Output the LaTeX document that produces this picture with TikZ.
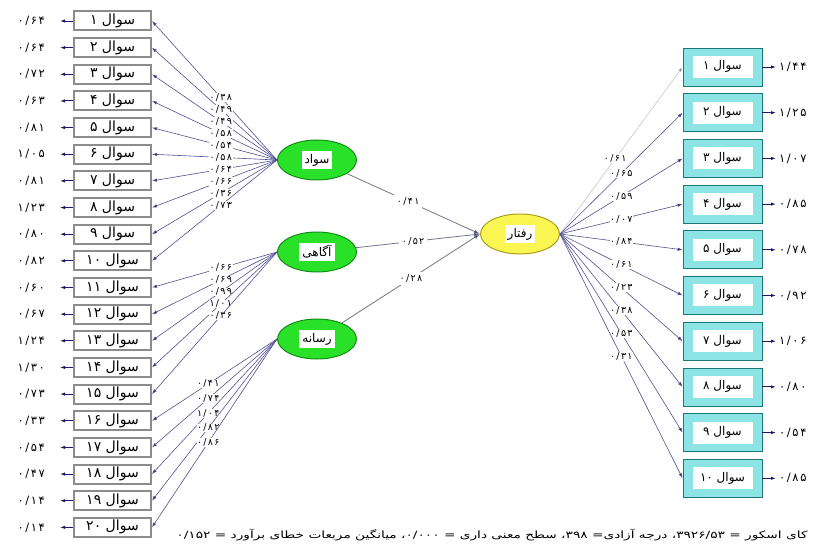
\documentclass[tikz,border=0pt]{standalone}
\usepackage{fontspec}
\setmainfont{DejaVu Sans}
\newfontfamily\fa[Script=Arabic]{DejaVu Sans}
\newfontfamily\fanum[Script=Arabic,LetterSpace=14]{DejaVu Sans}
\TeXXeTstate=1
\usetikzlibrary{arrows.meta,shapes.geometric}
\definecolor{cload}{RGB}{80,80,150}
\definecolor{cpath}{RGB}{115,115,140}
\definecolor{chead}{RGB}{25,25,110}
\definecolor{cgreen}{RGB}{40,225,40}
\definecolor{cgreenb}{RGB}{20,140,20}
\definecolor{cyellow}{RGB}{250,245,80}
\definecolor{cyellowb}{RGB}{170,160,30}
\definecolor{ccyan}{RGB}{140,228,228}
\definecolor{cteal}{RGB}{30,120,120}
\definecolor{cframe}{RGB}{140,140,140}

\begin{document}
\begin{tikzpicture}[x=1pt,y=-1pt,>={Latex[length=5pt,width=3.4pt]},
  itembox/.style={rectangle,draw=cframe,line width=2pt,fill=white,
    minimum width=77pt,minimum height=19pt,inner sep=0pt,font=\fa\fontsize{14}{14}\selectfont},
  obsbox/.style={rectangle,draw=cteal,line width=0.8pt,fill=ccyan,minimum width=79pt,
    minimum height=38pt,inner sep=0pt,font=\fa\fontsize{12}{12}\selectfont},
  latent/.style={ellipse,draw=#1b,line width=1pt,fill=#1,minimum width=79pt,
    minimum height=40pt,inner sep=0pt,font=\fa\fontsize{12}{12}\selectfont},
  coef/.style={font=\fanum\fontsize{9.5}{9.5}\selectfont,fill=white,inner sep=0.5pt},
  errval/.style={font=\fanum\fontsize{11.5}{11.5}\selectfont,inner sep=0pt},
  load/.style={draw=cload,line width=0.6pt,-{Latex[length=5pt,width=3.4pt,fill=chead]}},
  errarrow/.style={draw=chead,line width=0.9pt,->},
  struct/.style={draw=cpath,line width=0.8pt,-{Latex[length=6pt,width=4pt,fill=chead]}}]
\useasboundingbox (0,0) rectangle (822,553);
\fboxsep=3pt
% ---------- left indicators (20 items) ----------
\foreach \i/\n/\v in {1/۱/{۰/۶۴},2/۲/{۰/۶۴},3/۳/{۰/۷۲},4/۴/{۰/۶۳},5/۵/{۰/۸۱},
    6/۶/{۱/۰۵},7/۷/{۰/۸۱},8/۸/{۱/۲۳},9/۹/{۰/۸۰},10/۱۰/{۰/۸۲},11/۱۱/{۰/۶۰},
    12/۱۲/{۰/۶۷},13/۱۳/{۱/۲۴},14/۱۴/{۱/۳۰},15/۱۵/{۰/۷۳},16/۱۶/{۰/۳۳},
    17/۱۷/{۰/۵۴},18/۱۸/{۰/۴۷},19/۱۹/{۰/۱۴},20/۲۰/{۰/۱۴}}{
  \node[itembox] (L\i) at (112.5,{21+26.65*(\i-1)}) {\beginR سوال \n\endR};
  \node[errval,anchor=east] (e\i) at (45,{21+26.65*(\i-1)}) {\v};
  \draw[errarrow,shorten >=15pt] (L\i.west) -- (e\i.east);
}
% ---------- right indicators (10 items) ----------
\foreach \i/\n/\v in {1/۱/{۱/۴۴},2/۲/{۱/۲۵},3/۳/{۱/۰۷},4/۴/{۰/۸۵},5/۵/{۰/۷۸},
    6/۶/{۰/۹۲},7/۷/{۱/۰۶},8/۸/{۰/۸۰},9/۹/{۰/۵۴},10/۱۰/{۰/۸۵}}{
  \node[obsbox] (R\i) at (722.5,{67+45.7*(\i-1)})
    {\colorbox{white}{\makebox[54pt]{\rule[-5pt]{0pt}{16pt}\beginR سوال \n\endR}}};
  \node[errval,anchor=west] (f\i) at (779,{67+45.7*(\i-1)}) {\v};
  \draw[errarrow,shorten >=3pt] (R\i.east) -- (f\i.west);
}
% ---------- latent variables ----------
\node[latent=cgreen] (savad) at (317,160) {\colorbox{white}{\beginR سواد\endR}};
\node[latent=cgreen] (agahi) at (317,252) {\colorbox{white}{\beginR آگاهی\endR}};
\node[latent=cgreen] (resane) at (317,339) {\colorbox{white}{\beginR رسانه\endR}};
\node[latent=cyellow] (raftar) at (520,234) {\colorbox{white}{\beginR رفتار\endR}};
% ---------- loadings ----------
\foreach \i/\v in {1/{۰/۳۸},2/{۰/۴۹},3/{۰/۴۹},4/{۰/۵۸},5/{۰/۵۴},6/{۰/۵۸},
    7/{۰/۶۴},8/{۰/۶۶},9/{۰/۳۶},10/{۰/۷۳}}
  \draw[load] (savad.west) -- node[coef,pos=0.45]{\v} (L\i.east);
\foreach \i/\v in {11/{۰/۶۶},12/{۰/۶۹},13/{۰/۹۹},14/{۱/۰۱},15/{۰/۳۶}}
  \draw[load] (agahi.west) -- node[coef,pos=0.45]{\v} (L\i.east);
\foreach \i/\v in {16/{۰/۴۱},17/{۰/۷۴},18/{۱/۰۴},19/{۰/۸۲},20/{۰/۸۶}}
  \draw[load] (resane.west) -- node[coef,pos=0.55]{\v} (L\i.east);
\draw[load,draw=gray!45] (raftar.east) -- node[coef,pos=0.45]{۰/۶۱} (R1.west);
\foreach \i/\v in {2/{۰/۶۵},3/{۰/۵۹},4/{۰/۰۷},5/{۰/۸۴},6/{۰/۶۱},
    7/{۰/۲۳},8/{۰/۳۸},9/{۰/۵۳},10/{۰/۳۱}}
  \draw[load] (raftar.east) -- node[coef,pos=0.5]{\v} (R\i.west);
% ---------- structural paths ----------
\draw[struct] (savad) -- node[coef,pos=0.46,inner sep=3pt]{۰/۴۱} (raftar.west);
\draw[struct] (agahi) -- node[coef,pos=0.46,inner sep=3pt]{۰/۵۲} (raftar.west);
\draw[struct] (resane) -- node[coef,pos=0.5,inner sep=3pt]{۰/۲۸} (raftar.west);
% ---------- fit indices ----------
\node[font=\fa\fontsize{10}{10}\selectfont] (fit) at (492,535)
  {\scalebox{1.37}[1]{\beginR کای اسکور = ۳۹۲۶/۵۳\kern0pt، درجه آزادی\kern0pt= ۳۹۸\kern0pt، سطح معنی داری = ۰/۰۰۰\kern0pt، میانگین مربعات خطای برآورد = ۰/۱۵۲\endR}};
\end{tikzpicture}
\end{document}
